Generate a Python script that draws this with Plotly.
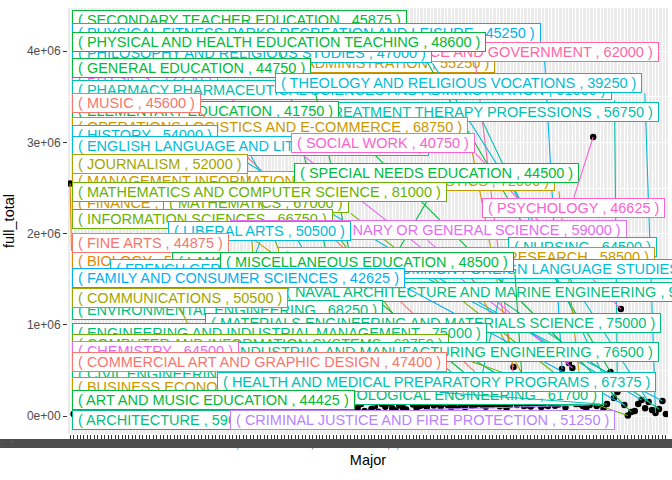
import math
import plotly.graph_objects as go

# ---------------- data ----------------
majors = [
    "BIOLOGY", "ARCHITECTURE", "GENERAL AGRICULTURE", "AGRICULTURE PRODUCTION AND MANAGEMENT",
    "AGRICULTURAL ECONOMICS", "ANIMAL SCIENCES", "FOOD SCIENCE", "PLANT SCIENCE AND AGRONOMY",
    "MISCELLANEOUS AGRICULTURE", "ENVIRONMENTAL SCIENCE", "FORESTRY", "NATURAL RESOURCES MANAGEMENT",
    "AREA ETHNIC AND CIVILIZATION STUDIES", "MASS MEDIA", "ADVERTISING AND PUBLIC RELATIONS",
    "COMMUNICATION TECHNOLOGIES", "COMPUTER PROGRAMMING AND DATA PROCESSING", "COMPUTER SCIENCE",
    "COMPUTER ADMINISTRATION MANAGEMENT AND SECURITY", "COMPUTER NETWORKING AND TELECOMMUNICATIONS",
    "COSMETOLOGY SERVICES AND CULINARY ARTS", "EDUCATIONAL ADMINISTRATION AND SUPERVISION",
    "SCHOOL STUDENT COUNSELING", "MATHEMATICS TEACHER EDUCATION", "EARLY CHILDHOOD EDUCATION",
    "SCIENCE AND COMPUTER TEACHER EDUCATION", "SOCIAL SCIENCE OR HISTORY TEACHER EDUCATION",
    "TEACHER EDUCATION: MULTIPLE LEVELS", "ART AND MUSIC EDUCATION", "GENERAL ENGINEERING",
    "AEROSPACE ENGINEERING", "ARCHITECTURAL ENGINEERING", "BIOMEDICAL ENGINEERING",
    "CHEMICAL ENGINEERING", "COMPUTER ENGINEERING", "ELECTRICAL ENGINEERING", "LIBERAL ARTS",
    "ENGINEERING MECHANICS PHYSICS AND SCIENCE", "GEOLOGICAL AND GEOPHYSICAL ENGINEERING",
    "MECHANICAL ENGINEERING", "METALLURGICAL ENGINEERING", "MINING AND MINERAL ENGINEERING",
    "NUCLEAR ENGINEERING", "PETROLEUM ENGINEERING", "MISCELLANEOUS ENGINEERING",
    "ENGINEERING TECHNOLOGIES", "COMMUNICATIONS", "ELECTRICAL ENGINEERING TECHNOLOGY",
    "INDUSTRIAL PRODUCTION TECHNOLOGIES", "MECHANICAL ENGINEERING RELATED TECHNOLOGIES",
    "MISCELLANEOUS ENGINEERING TECHNOLOGIES", "LINGUISTICS AND COMPARATIVE LANGUAGE AND LITERATURE",
    "OTHER FOREIGN LANGUAGES", "COURT REPORTING", "PRE-LAW AND LEGAL STUDIES",
    "COMPOSITION AND RHETORIC", "JOURNALISM", "HUMANITIES", "LIBRARY SCIENCE",
    "BIOCHEMICAL SCIENCES", "BOTANY", "MOLECULAR BIOLOGY", "ECOLOGY", "GENETICS", "MICROBIOLOGY",
    "PHARMACOLOGY", "BUSINESS MANAGEMENT AND ADMINISTRATION", "PHYSIOLOGY", "SPECIAL NEEDS EDUCATION",
    "ZOOLOGY", "NEUROSCIENCE", "MISCELLANEOUS BIOLOGY", "APPLIED MATHEMATICS",
    "STATISTICS AND DECISION SCIENCE", "MILITARY TECHNOLOGIES", "MULTI/INTERDISCIPLINARY STUDIES",
    "INTERCULTURAL AND INTERNATIONAL STUDIES", "NUTRITION SCIENCES", "MATHEMATICS AND COMPUTER SCIENCE",
    "COGNITIVE SCIENCE AND BIOPSYCHOLOGY", "INTERDISCIPLINARY SOCIAL SCIENCES", "PHYSICAL SCIENCES",
    "ASTRONOMY AND ASTROPHYSICS", "ATMOSPHERIC SCIENCES AND METEOROLOGY",
    "PHYSICAL AND HEALTH EDUCATION TEACHING", "GEOLOGY AND EARTH SCIENCE", "GEOSCIENCES",
    "OCEANOGRAPHY", "COMMERCIAL ART AND GRAPHIC DESIGN", "MATERIALS SCIENCE", "GENERAL EDUCATION",
    "NUCLEAR, INDUSTRIAL RADIOLOGY, AND BIOLOGICAL TECHNOLOGIES", "ENGLISH LANGUAGE AND LITERATURE",
    "EDUCATIONAL PSYCHOLOGY", "CLINICAL PSYCHOLOGY", "COUNSELING PSYCHOLOGY",
    "INDUSTRIAL AND ORGANIZATIONAL PSYCHOLOGY", "SOCIAL PSYCHOLOGY", "ENVIRONMENTAL ENGINEERING",
    "MISCELLANEOUS PSYCHOLOGY", "PUBLIC ADMINISTRATION", "PUBLIC POLICY",
    "ENGINEERING AND INDUSTRIAL MANAGEMENT", "HUMAN SERVICES AND COMMUNITY ORGANIZATION",
    "GENERAL SOCIAL SCIENCES", "ECONOMICS", "FINE ARTS", "ANTHROPOLOGY AND ARCHEOLOGY", "CRIMINOLOGY",
    "BUSINESS ECONOMICS", "GEOGRAPHY", "INTERNATIONAL RELATIONS", "INFORMATION SCIENCES", "SOCIOLOGY",
    "MISCELLANEOUS SOCIAL SCIENCES", "CONSTRUCTION SERVICES",
    "ELECTRICAL, MECHANICAL, AND PRECISION TECHNOLOGIES AND PRODUCTION", "NURSING",
    "PRECISION PRODUCTION", "FINANCE", "TRANSPORTATION SCIENCES AND TECHNOLOGIES",
    "DRAMA AND THEATER ARTS", "INDUSTRIAL AND MANUFACTURING ENGINEERING", "VISUAL AND PERFORMING ARTS",
    "FILM VIDEO AND PHOTOGRAPHY ARTS", "LANGUAGE AND DRAMA EDUCATION", "ART HISTORY AND CRITICISM",
    "MUSIC", "OPERATIONS LOGISTICS AND E-COMMERCE", "POLITICAL SCIENCE AND GOVERNMENT", "STUDIO ARTS",
    "MISCELLANEOUS EDUCATION", "MISCELLANEOUS FINE ARTS", "GENERAL MEDICAL AND HEALTH SERVICES",
    "COMMUNICATION DISORDERS SCIENCES AND SERVICES", "MARKETING AND MARKETING RESEARCH",
    "HEALTH AND MEDICAL ADMINISTRATIVE SERVICES", "MEDICAL ASSISTING SERVICES",
    "MATERIALS ENGINEERING AND MATERIALS SCIENCE", "MEDICAL TECHNOLOGIES TECHNICIANS",
    "COMMUNITY AND PUBLIC HEALTH", "MISCELLANEOUS HEALTH MEDICAL PROFESSIONS",
    "PHYSICAL FITNESS PARKS RECREATION AND LEISURE", "GENERAL BUSINESS", "PHYSICS",
    "MULTI-DISCIPLINARY OR GENERAL SCIENCE", "BIOLOGICAL ENGINEERING", "CHEMISTRY",
    "MANAGEMENT INFORMATION SYSTEMS AND STATISTICS", "ACCOUNTING", "CRIMINAL JUSTICE AND FIRE PROTECTION",
    "PSYCHOLOGY", "MATHEMATICS", "HEALTH AND MEDICAL PREPARATORY PROGRAMS", "ACTUARIAL SCIENCE",
    "CIVIL ENGINEERING", "SECONDARY TEACHER EDUCATION", "TREATMENT THERAPY PROFESSIONS",
    "PHARMACY PHARMACEUTICAL SCIENCES AND ADMINISTRATION", "SOCIAL WORK", "FAMILY AND CONSUMER SCIENCES",
    "COMPUTER AND INFORMATION SYSTEMS", "ELEMENTARY EDUCATION", "HUMAN RESOURCES AND PERSONNEL MANAGEMENT",
    "INTERNATIONAL BUSINESS", "HISTORY", "HOSPITALITY MANAGEMENT", "PHILOSOPHY AND RELIGIOUS STUDIES",
    "MISCELLANEOUS BUSINESS & MEDICAL ADMINISTRATION", "THEOLOGY AND RELIGIOUS VOCATIONS",
    "NAVAL ARCHITECTURE AND MARINE ENGINEERING",
    "FRENCH GERMAN LATIN AND OTHER COMMON FOREIGN LANGUAGE STUDIES", "UNITED STATES HISTORY",
]

full_total = [
    2550000, 22000, 45000, 18000, 62000, 24000, 38000, 12000, 71000, 30000,
    55000, 15000, 88000, 26000, 47000, 9000, 64000, 33000, 21000, 76000,
    14000, 52000, 40000, 27000, 83000, 19000, 58000, 35000, 66000, 70000,
    23000, 49000, 66000, 12000, 91000, 31000, 70000, 57000, 16000, 74000,
    42000, 28000, 63000, 11000, 85000, 37000, 66000, 59000, 22000, 78000,
    44000, 17000, 68000, 29000, 95000, 53000, 66000, 36000, 72000, 13000,
    61000, 25000, 87000, 48000, 20000, 67000, 4250000, 39000, 77000, 81000,
    26000, 58000, 14000, 69000, 43000, 98000, 32000, 60000, 66000, 24000,
    73000, 41000, 16000, 88000, 132000, 54000, 30000, 77000, 110000, 46000,
    132000, 102000, 143000, 86000, 60000, 118000, 95000, 72000, 164000, 126000,
    88000, 109000, 121000, 99000, 142000, 115000, 132000, 104000, 137000, 121000,
    93000, 118000, 110000, 128000, 97000, 143000, 112000, 121000, 134000, 121000,
    101000, 125000, 121000, 139000, 108000, 121000, 88000, 121000, 537000, 121000,
    146000, 110000, 119000, 105000, 129000, 132000, 98000, 121000, 110000, 140000,
    112000, 126000, 515000, 96000, 581000, 526000, 132000, 132000, 110000, 88000,
    121000, 3060000, 110000, 132000, 76000, 132000, 482000, 197000, 263000, 1173000,
    121000, 5000, 44000, 54000, 131000, 175000, 86000, 154000, 66000, 33000,
    77000, 164000, 21000,
]

# labelled majors (in drawing order) with their median salary and major category
label_majors = [
    "BUSINESS MANAGEMENT AND ADMINISTRATION", "SECONDARY TEACHER EDUCATION",
    "PHYSICAL FITNESS PARKS RECREATION AND LEISURE", "POLITICAL SCIENCE AND GOVERNMENT",
    "PHILOSOPHY AND RELIGIOUS STUDIES", "PHYSICAL AND HEALTH EDUCATION TEACHING", "PHYSICS",
    "PHARMACY PHARMACEUTICAL SCIENCES AND ADMINISTRATION", "GENERAL EDUCATION",
    "THEOLOGY AND RELIGIOUS VOCATIONS", "TREATMENT THERAPY PROFESSIONS", "ELEMENTARY EDUCATION",
    "MUSIC", "OPERATIONS LOGISTICS AND E-COMMERCE", "HISTORY", "ENGLISH LANGUAGE AND LITERATURE",
    "SOCIAL WORK", "MANAGEMENT INFORMATION SYSTEMS AND STATISTICS", "JOURNALISM",
    "SPECIAL NEEDS EDUCATION", "FINANCE", "MATHEMATICS", "MATHEMATICS AND COMPUTER SCIENCE",
    "INFORMATION SCIENCES", "MULTI-DISCIPLINARY OR GENERAL SCIENCE", "LIBERAL ARTS", "PSYCHOLOGY",
    "NURSING", "MARKETING AND MARKETING RESEARCH", "BIOLOGY", "FINE ARTS",
    "LANGUAGE AND DRAMA EDUCATION", "FRENCH GERMAN LATIN AND OTHER COMMON FOREIGN LANGUAGE STUDIES",
    "NAVAL ARCHITECTURE AND MARINE ENGINEERING", "MISCELLANEOUS EDUCATION",
    "FAMILY AND CONSUMER SCIENCES", "ENVIRONMENTAL ENGINEERING", "COMMUNICATIONS",
    "MATERIALS ENGINEERING AND MATERIALS SCIENCE", "ENGINEERING AND INDUSTRIAL MANAGEMENT",
    "COMPUTER AND INFORMATION SYSTEMS", "INDUSTRIAL AND MANUFACTURING ENGINEERING", "CHEMISTRY",
    "CIVIL ENGINEERING", "BUSINESS ECONOMICS", "COMMERCIAL ART AND GRAPHIC DESIGN",
    "BIOLOGICAL ENGINEERING", "HEALTH AND MEDICAL PREPARATORY PROGRAMS", "ART AND MUSIC EDUCATION",
    "ARCHITECTURE", "CRIMINAL JUSTICE AND FIRE PROTECTION",
]
label_medians = [
    55250, 45875, 45250, 62000, 47000, 48600, 72250, 91000, 44750, 39250, 56750, 41750,
    45600, 68750, 54000, 53000, 40750, 72000, 52000, 44500, 65000, 67000, 81000, 66750,
    59000, 50500, 46625, 64500, 58500, 56000, 44875, 48000, 47500, 97000, 48500, 42625,
    68250, 50500, 75000, 75000, 63750, 76500, 64500, 73000, 65000, 47400, 61700, 67375,
    44425, 59000, 51250,
]
label_categories = [
    "Business", "Education", "Industrial Arts & Consumer Services", "Social Science",
    "Humanities & Liberal Arts", "Education", "Physical Sciences", "Health", "Education",
    "Humanities & Liberal Arts", "Health", "Education", "Arts", "Business",
    "Humanities & Liberal Arts", "Humanities & Liberal Arts", "Psychology & Social Work", "Business",
    "Communications & Journalism", "Education", "Business", "Computers & Mathematics",
    "Computers & Mathematics", "Computers & Mathematics", "Physical Sciences",
    "Humanities & Liberal Arts", "Psychology & Social Work", "Health", "Business",
    "Biology & Life Science", "Arts", "Education", "Humanities & Liberal Arts", "Engineering",
    "Education", "Industrial Arts & Consumer Services", "Engineering", "Communications & Journalism",
    "Engineering", "Engineering", "Computers & Mathematics", "Engineering", "Physical Sciences",
    "Engineering", "Business", "Arts", "Engineering", "Health", "Education", "Engineering",
    "Law & Public Policy",
]

category_colors = {
    "Arts": "#F8766D", "Biology & Life Science": "#E58700", "Business": "#C99800",
    "Communications & Journalism": "#A3A500", "Computers & Mathematics": "#6BB100",
    "Education": "#00BA38", "Engineering": "#00BF7D", "Health": "#00C0AF",
    "Humanities & Liberal Arts": "#00BCD8", "Industrial Arts & Consumer Services": "#00B0F6",
    "Interdisciplinary": "#619CFF", "Law & Public Policy": "#B983FF",
    "Physical Sciences": "#E76BF3", "Psychology & Social Work": "#FD61D1",
    "Social Science": "#FF67A4",
}

# ------------- repelled label layout (canvas pixels) -------------
# pinned side of the label box, x of that side, y of the box centre
label_side = [
    "L", "L", "L", "R", "L", "L", "L", "L", "L", "L", "R", "L", "L", "L", "L", "L", "L", "L",
    "L", "L", "L", "L", "L", "L", "R", "L", "L", "L", "R", "L", "L", "L", "L", "L", "L", "L",
    "L", "L", "R", "L", "L", "R", "L", "L", "L", "L", "R", "L", "L", "L", "L",
]
label_px = [
    71.5, 71.5, 71.5, 659, 71.5, 71.5, 71.5, 71.5, 71.5, 275, 659, 71.5, 71.5, 71.5, 71.5,
    71.5, 291, 71.5, 71.5, 294, 71.5, 163, 71.5, 71.5, 627, 168, 482, 508, 655, 71.5, 71.5,
    172, 110, 280, 220, 71.5, 71.5, 71.5, 661, 71.5, 71.5, 659, 71.5, 71.5, 71.5, 71.5, 603,
    217, 71.5, 71.5, 230,
]
label_py = [
    63, 20, 33, 52, 53, 42, 78, 90, 68, 83, 112, 111, 102.5, 127, 135, 146, 143, 181, 164,
    173, 203, 203, 192, 219, 230, 231, 208, 247, 257, 261, 243, 262, 269, 292, 262, 278, 310,
    298, 323, 333, 344, 352, 351, 374, 387, 362, 395, 382, 400, 420, 420,
]

# ---------------- geometry ----------------
FIG_W, FIG_H = 672, 480
M_L, M_R, M_T, M_B = 68, 4, 8, 46
PL, PR, PT, PB = M_L, FIG_W - M_R, M_T, FIG_H - M_B
X_RANGE = [-0.6, len(majors) - 0.4]
Y_RANGE = [-197000, 4474000]

FONT = "Liberation Sans, Arial, Helvetica, sans-serif"
FS = 14.5
BP, BW = 1, 1
BOX_H = FS * 1.149 + 2 * (BP + BW)
PAD = "\u00a0"

ARIAL = {" ": 278, "\u00a0": 278, "(": 333, ")": 333, ",": 278, "-": 333,
         "&": 667, "/": 278, ":": 278, ".": 278,
         "A": 667, "B": 667, "C": 722, "D": 722, "E": 667, "F": 611, "G": 778, "H": 722,
         "I": 278, "J": 500, "K": 667, "L": 556, "M": 833, "N": 722, "O": 778, "P": 667,
         "Q": 778, "R": 722, "S": 667, "T": 611, "U": 722, "V": 667, "W": 944, "X": 667,
         "Y": 667, "Z": 611}
for d in "0123456789":
    ARIAL[d] = 556


def text_w(s, fs):
    return sum(ARIAL.get(c, 600) for c in s) / 1000.0 * fs


def px_to_x(px):
    return X_RANGE[0] + (px - PL) / (PR - PL) * (X_RANGE[1] - X_RANGE[0])


def py_to_y(py):
    return Y_RANGE[1] - (py - PT) / (PB - PT) * (Y_RANGE[1] - Y_RANGE[0])


def x_to_px(x):
    return PL + (x - X_RANGE[0]) / (X_RANGE[1] - X_RANGE[0]) * (PR - PL)


def y_to_py(y):
    return PT + (Y_RANGE[1] - y) / (Y_RANGE[1] - Y_RANGE[0]) * (PB - PT)


annotations = []
for i, name in enumerate(label_majors):
    j = majors.index(name)
    col = category_colors[label_categories[i]]
    disp = PAD + f"( {name} , {label_medians[i]} )" + PAD
    w = text_w(disp, FS) + 2 * (BP + BW)
    if label_side[i] == "L":
        L = label_px[i]
        R = L + w
    else:
        R = label_px[i]
        L = R - w
    T = label_py[i] - BOX_H / 2
    B = label_py[i] + BOX_H / 2
    ppx, ppy = x_to_px(j), y_to_py(full_total[j])
    inside = L <= ppx <= R and T <= ppy <= B
    tx = L if ppx < L else (R if ppx > R else (L + R) / 2)
    ty = T if ppy < T else (B if ppy > B else (T + B) / 2)
    if not inside and math.hypot(tx - ppx, ty - ppy) > 7:
        annotations.append(dict(
            x=j, y=full_total[j], xref="x", yref="y",
            ax=px_to_x(tx), ay=py_to_y(ty), axref="x", ayref="y",
            text="", showarrow=True, arrowhead=0, arrowwidth=1.1, arrowcolor=col,
            standoff=0, startstandoff=0, borderpad=0, borderwidth=0, font=dict(size=1)))
    annotations.append(dict(
        x=px_to_x(label_px[i]), y=py_to_y(label_py[i]), xref="x", yref="y",
        xanchor="left" if label_side[i] == "L" else "right", yanchor="middle",
        text=disp, showarrow=False,
        font=dict(family=FONT, size=FS, color=col),
        bgcolor="white", bordercolor=col, borderwidth=BW, borderpad=BP))

fig = go.Figure()
fig.add_trace(go.Scatter(
    x=majors, y=full_total, mode="markers",
    marker=dict(color="black", size=6.5), hoverinfo="skip", showlegend=False))

y_ticks = [0, 1e6, 2e6, 3e6, 4e6]
fig.update_layout(
    width=FIG_W, height=FIG_H,
    margin=dict(l=M_L, r=M_R, t=M_T, b=M_B, pad=0),
    paper_bgcolor="white", plot_bgcolor="#EBEBEB",
    font=dict(family=FONT, color="#4D4D4D"),
    showlegend=False,
    annotations=annotations,
    xaxis=dict(
        type="category", categoryorder="array", categoryarray=majors,
        range=X_RANGE, tickmode="array", tickvals=majors, ticktext=majors,
        tickangle=0, tickfont=dict(size=12, color="#4D4D4D"),
        ticks="outside", ticklen=4, tickwidth=1, tickcolor="#333333",
        ticklabelstandoff=-5,
        showgrid=True, gridcolor="white", gridwidth=1.4, zeroline=False, showline=False,
        automargin=False,
        title=dict(text="Major", font=dict(size=14.5, color="black"), standoff=4),
    ),
    yaxis=dict(
        range=Y_RANGE, tickmode="array", tickvals=y_ticks,
        ticktext=["0e+00", "1e+06", "2e+06", "3e+06", "4e+06"],
        tickfont=dict(size=12, color="#4D4D4D"),
        ticks="outside", ticklen=4, tickwidth=1, tickcolor="#333333",
        showgrid=True, gridcolor="white", gridwidth=1.4, zeroline=False, showline=False,
        minor=dict(tickvals=[5e5, 1.5e6, 2.5e6, 3.5e6], showgrid=True,
                   gridcolor="white", gridwidth=0.7, ticks=""),
        automargin=False,
        title=dict(text="full_total", font=dict(size=14.5, color="black"), standoff=8),
    ),
)

fig.write_html("out.html")
